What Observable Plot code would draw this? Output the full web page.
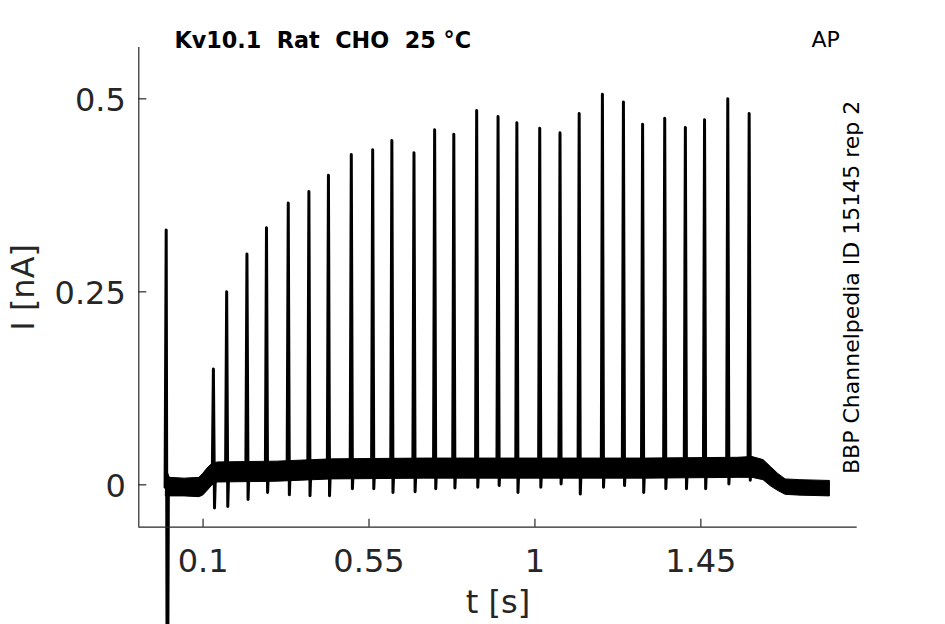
<!DOCTYPE html>
<html>
<head>
<meta charset="utf-8">
<script src="https://cdn.jsdelivr.net/npm/d3@7"></script>
<script src="https://cdn.jsdelivr.net/npm/@observablehq/plot@0.6"></script>
<style>
  body { margin: 0; background: #ffffff; }
  #chart svg { display: block; }
</style>
</head>
<body>
<div id="chart"></div>
<script>
// ---- tick values / labels ----
const xTicks = [0.1, 0.55, 1, 1.45];
const xTickLabels = ["0.1", "0.55", "1", "1.45"];
const yTicks = [0, 0.25, 0.5];
const yTickLabels = ["0", "0.25", "0.5"];

// ---- spikes of the AP-clamp current (t in s, I in nA) ----
const spikeT    = [0.000, 0.128, 0.164, 0.219, 0.272, 0.331, 0.387, 0.440, 0.502, 0.560,
                   0.612, 0.672, 0.728, 0.780, 0.842, 0.900, 0.951, 1.013, 1.068, 1.120,
                   1.183, 1.240, 1.292, 1.352, 1.408, 1.460, 1.523, 1.581];
const spikePeak = [0.330, 0.150, 0.250, 0.299, 0.333, 0.365, 0.380, 0.401, 0.428, 0.434,
                   0.446, 0.430, 0.460, 0.454, 0.485, 0.477, 0.469, 0.462, 0.456, 0.481,
                   0.506, 0.496, 0.467, 0.475, 0.463, 0.473, 0.500, 0.481];
const spikeDip  = [-0.400, -0.030, -0.028, -0.019, -0.010, -0.013, -0.014, -0.014, -0.005, -0.005,
                   -0.010, -0.009, -0.005, -0.004, -0.003, -0.001, -0.010, -0.003, 0.001, -0.012,
                   -0.003, -0.001, -0.010, -0.005, -0.005, -0.005, 0.001, 0.006];
const spikeBase = [-0.003, 0.012, 0.016, 0.017, 0.017, 0.018, 0.019, 0.020, 0.020, 0.021,
                   0.021, 0.021, 0.021, 0.021, 0.021, 0.021, 0.021, 0.021, 0.021, 0.021,
                   0.021, 0.021, 0.021, 0.021, 0.021, 0.021, 0.022, 0.022];

// ---- noise band of the baseline (lower / upper envelope) ----
const bandT  = [0, 0.004, 0.01, 0.05, 0.09, 0.10, 0.112, 0.125, 0.14, 0.30, 0.45, 0.70, 1.00, 1.30, 1.55, 1.59, 1.62, 1.64, 1.66, 1.68, 1.72, 1.80];
const bandLo = [-0.015, -0.014, -0.015, -0.015, -0.016, -0.014, -0.008, -0.001, 0.003, 0.004, 0.007, 0.008, 0.008, 0.008, 0.009, 0.009, 0.006, -0.002, -0.008, -0.013, -0.014, -0.015];
const bandHi = [0.010, 0.016, 0.009, 0.008, 0.009, 0.014, 0.021, 0.027, 0.029, 0.030, 0.033, 0.034, 0.034, 0.034, 0.035, 0.036, 0.032, 0.023, 0.014, 0.007, 0.006, 0.005];

const xDomain = [-0.0743, 1.874];
const yDomain = [-0.0549, 0.5665];

// build tables for the library
const band = bandT.map((t, i) => ({t, lo: bandLo[i], hi: bandHi[i]}));
const trace = [];
spikeT.forEach((t, i) => {
  const b = spikeBase[i];
  trace.push({t: t - 0.003, I: b});
  trace.push({t: t, I: spikePeak[i]});
  trace.push({t: t + 0.003, I: spikeDip[i]});
  trace.push({t: t + 0.006, I: b + 0.010});
  trace.push({t: t + 0.015, I: b + 0.004});
  trace.push({t: t + 0.025, I: b});
});
const xt = xTicks.map((v, i) => ({v, label: xTickLabels[i]}));
const yt = yTicks.map((v, i) => ({v, label: yTickLabels[i]}));

const axisColor = "#262626";
const W = 945, H = 624;
const mL = 138.3, mR = 88.3, mT = 47, mB = 97.3;
const frameW = W - mL - mR, frameH = H - mT - mB;

const chart = Plot.plot({
  width: W, height: H,
  marginLeft: mL, marginRight: mR, marginTop: mT, marginBottom: mB,
  x: {domain: xDomain, axis: null},
  y: {domain: yDomain, axis: null},
  style: {fontFamily: "DejaVu Sans", background: "white"},
  marks: [
    // noise band + trace
    Plot.areaY(band, {x: "t", y1: "lo", y2: "hi", fill: "black", stroke: "black", strokeWidth: 1, curve: "linear"}),
    Plot.line(trace, {x: "t", y: "I", stroke: "black", strokeWidth: 3, strokeLinejoin: "round", curve: "linear"}),
    // axis lines
    Plot.ruleY([yDomain[0]], {x1: xDomain[0], x2: xDomain[1], stroke: axisColor, strokeWidth: 1.2}),
    Plot.ruleX([xDomain[0]], {y1: yDomain[0], y2: yDomain[1], stroke: axisColor, strokeWidth: 1.2}),
    // inward ticks
    Plot.ruleX(xt, {x: "v", insetTop: frameH - 8, stroke: axisColor, strokeWidth: 1.2}),
    Plot.ruleY(yt, {y: "v", insetRight: frameW - 8, stroke: axisColor, strokeWidth: 1.2}),
    // tick labels
    Plot.text(xt, {x: "v", y: yDomain[0], text: "label", dy: 34.7, lineAnchor: "middle",
      fontSize: 32, fill: axisColor}),
    Plot.text(yt, {x: xDomain[0], y: "v", text: "label", dx: -13, dy: 2, lineAnchor: "middle",
      textAnchor: "end", fontSize: 32, fill: axisColor}),
    // axis titles
    Plot.text(["I [nA]"], {frameAnchor: "left", rotate: -90, dx: -105.3, lineAnchor: "bottom",
      textAnchor: "middle", fontSize: 32, fill: axisColor}),
    Plot.text(["t [s]"], {frameAnchor: "bottom", dy: 85.5, lineAnchor: "bottom",
      textAnchor: "middle", fontSize: 32, fill: axisColor}),
    // title and annotations
    Plot.text(["Kv10.1  Rat  CHO  25 °C"], {frameAnchor: "top-left", dx: 35.7, dy: 0.7,
      lineAnchor: "bottom", textAnchor: "start", fontSize: 22.3, fontWeight: "bold", fill: "black"}),
    Plot.text(["AP"], {frameAnchor: "top-right", dx: -45.7, dy: -0.3, lineAnchor: "bottom",
      textAnchor: "start", fontSize: 22, fill: "black"}),
    Plot.text(["BBP Channelpedia ID 15145 rep 2"], {frameAnchor: "right", rotate: -90, dx: 1.3,
      lineAnchor: "bottom", textAnchor: "middle", fontSize: 22, fill: "black"})
  ]
});
document.getElementById("chart").appendChild(chart);
</script>
</body>
</html>
